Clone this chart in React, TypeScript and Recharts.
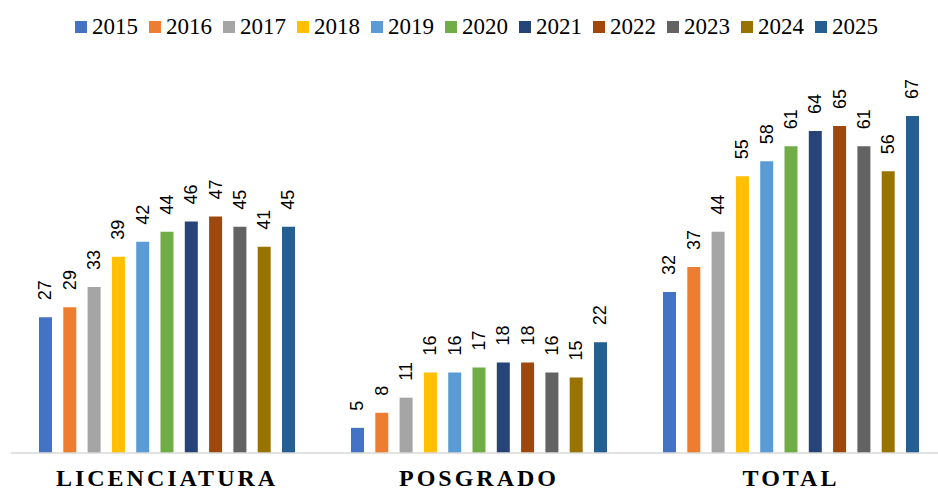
import { BarChart, Bar, XAxis, YAxis, LabelList } from "recharts";

// Años (series) y colores de la paleta Office
const YEARS = ["2015", "2016", "2017", "2018", "2019", "2020", "2021", "2022", "2023", "2024", "2025"];
const COLORS = [
  "#4472C4", "#ED7D31", "#A5A5A5", "#FFC000", "#5B9BD5", "#70AD47",
  "#264478", "#9E480E", "#636363", "#997300", "#255E91",
];

const CATEGORIES = ["LICENCIATURA", "POSGRADO", "TOTAL"];
const LICENCIATURA = [27, 29, 33, 39, 42, 44, 46, 47, 45, 41, 45];
const POSGRADO = [5, 8, 11, 16, 16, 17, 18, 18, 16, 15, 22];
const TOTAL = [32, 37, 44, 55, 58, 61, 64, 65, 61, 56, 67];

const SERIES_BY_CATEGORY = [LICENCIATURA, POSGRADO, TOTAL];

// una fila por categoría, una clave por año
const rows = CATEGORIES.map((cat, i) => {
  const row: Record<string, string | number> = { categoria: cat };
  YEARS.forEach((y, j) => {
    row[y] = SERIES_BY_CATEGORY[i][j];
  });
  return row;
});

const SERIF = "'Liberation Serif', 'Times New Roman', serif";
const SANS = "'Liberation Sans', Arial, sans-serif";

function ValueLabel(props: any) {
  const { x, y, width, value } = props;
  const cx = x + width / 2;
  const py = y - 17;
  return (
    <text
      x={cx}
      y={py}
      transform={`rotate(-90, ${cx}, ${py})`}
      textAnchor="start"
      dominantBaseline="central"
      fontFamily={SANS}
      fontSize={18}
      fill="#000"
    >
      {value}
    </text>
  );
}

function CategoryTick(props: any) {
  const { x, payload } = props;
  return (
    <text
      x={x}
      y={486}
      textAnchor="middle"
      fontFamily={SERIF}
      fontSize={24}
      fontWeight="bold"
      letterSpacing={3}
      fill="#000"
    >
      {payload.value}
    </text>
  );
}

export default function App() {
  return (
    <div
      style={{
        position: "absolute",
        left: 0,
        top: 0,
        width: 938,
        height: 492,
        overflow: "hidden",
        background: "#fff",
      }}
    >
      <div
        style={{
          position: "absolute",
          left: 75,
          top: 15,
          display: "flex",
          alignItems: "center",
          gap: 11,
          fontFamily: SERIF,
          fontSize: 23,
          lineHeight: "23px",
          color: "#000",
          zIndex: 1,
        }}
      >
        {YEARS.map((y, i) => (
          <div key={y} style={{ display: "flex", alignItems: "center" }}>
            <span
              style={{
                display: "inline-block",
                width: 12,
                height: 12,
                background: COLORS[i],
                marginRight: 5,
              }}
            />
            <span>{y}</span>
          </div>
        ))}
      </div>
      <BarChart
        width={950}
        height={492}
        data={rows}
        margin={{ top: 50.6, right: 3, left: 11, bottom: 0 }}
        barSize={13}
        barGap={11.3}
      >
        <XAxis
          dataKey="categoria"
          height={39}
          tickLine={false}
          axisLine={{ stroke: "#d9d9d9", strokeWidth: 1.5 }}
          tick={<CategoryTick />}
          interval={0}
        />
        <YAxis hide domain={[0, 80]} />
        {YEARS.map((y, i) => (
          <Bar key={y} dataKey={y} fill={COLORS[i]} isAnimationActive={false}>
            <LabelList dataKey={y} content={<ValueLabel />} />
          </Bar>
        ))}
      </BarChart>
    </div>
  );
}
